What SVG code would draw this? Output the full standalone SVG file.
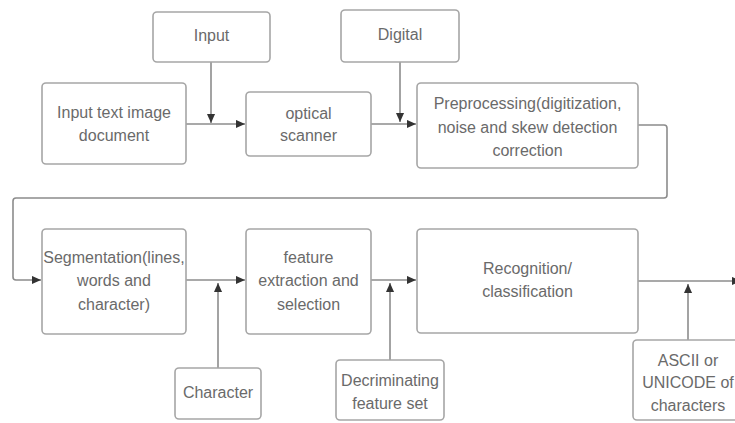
<svg xmlns="http://www.w3.org/2000/svg" width="735" height="423" viewBox="0 0 735 423">
  <style>
    .box { fill: #ffffff; stroke: #a6a6a6; stroke-width: 1.6; }
    .lbl { font-family: "Liberation Sans", Arial, sans-serif; font-size: 16px; fill: #6a6a6a; text-anchor: middle; }
    .wire { fill: none; stroke: #8c8c8c; stroke-width: 1.6; stroke-linejoin: round; }
  </style>
  <defs>
    <marker id="arrow" viewBox="0 0 10 10" refX="10" refY="5" markerWidth="9" markerHeight="9" markerUnits="userSpaceOnUse" orient="auto">
      <path d="M0,0.5 L10,5 L0,9.5 Z" fill="#333333"/>
    </marker>
  </defs>
  <rect width="735" height="423" fill="#ffffff"/>

  <!-- connectors -->
  <g id="connectors">
    <path class="wire" d="M186,124 H245" marker-end="url(#arrow)"/>
    <path class="wire" d="M211,62 V123" marker-end="url(#arrow)"/>
    <path class="wire" d="M371,124 H416" marker-end="url(#arrow)"/>
    <path class="wire" d="M400,62 V122" marker-end="url(#arrow)"/>
    <path class="wire" d="M638,125 H664 Q667,125 667,128 V195 Q667,198 664,198 H16 Q13,198 13,201 V277 Q13,280 16,280 H41" marker-end="url(#arrow)"/>
    <path class="wire" d="M186,280 H245" marker-end="url(#arrow)"/>
    <path class="wire" d="M218,368 V283" marker-end="url(#arrow)"/>
    <path class="wire" d="M371,280 H416" marker-end="url(#arrow)"/>
    <path class="wire" d="M390,360 V283" marker-end="url(#arrow)"/>
    <path class="wire" d="M638,281 H741" marker-end="url(#arrow)"/>
    <path class="wire" d="M688,340 V284" marker-end="url(#arrow)"/>
  </g>

  <g id="input">
    <rect class="box" x="153" y="12" width="117" height="50" rx="4"/>
    <text class="lbl" x="211.5" y="41">Input</text>
  </g>
  <g id="digital">
    <rect class="box" x="341" y="10" width="118" height="52" rx="4"/>
    <text class="lbl" x="400" y="40">Digital</text>
  </g>
  <g id="input-document">
    <rect class="box" x="42" y="83" width="144" height="81" rx="4"/>
    <text class="lbl" x="114" y="117.5">Input text image</text>
    <text class="lbl" x="114" y="140.5">document</text>
  </g>
  <g id="optical-scanner">
    <rect class="box" x="246" y="92" width="125" height="64" rx="4"/>
    <text class="lbl" x="308.5" y="119">optical</text>
    <text class="lbl" x="308.5" y="141">scanner</text>
  </g>
  <g id="preprocessing">
    <rect class="box" x="417" y="83" width="221" height="85" rx="4"/>
    <text class="lbl" x="527.5" y="109">Preprocessing(digitization,</text>
    <text class="lbl" x="527.5" y="133">noise and skew detection</text>
    <text class="lbl" x="527.5" y="156">correction</text>
  </g>
  <g id="segmentation">
    <rect class="box" x="42" y="229" width="144" height="105" rx="4"/>
    <text class="lbl" x="114" y="263">Segmentation(lines,</text>
    <text class="lbl" x="114" y="286">words and</text>
    <text class="lbl" x="114" y="310">character)</text>
  </g>
  <g id="feature-extraction">
    <rect class="box" x="246" y="229" width="125" height="105" rx="4"/>
    <text class="lbl" x="308.5" y="263">feature</text>
    <text class="lbl" x="308.5" y="286">extraction and</text>
    <text class="lbl" x="308.5" y="310">selection</text>
  </g>
  <g id="recognition">
    <rect class="box" x="417" y="229" width="221" height="104" rx="4"/>
    <text class="lbl" x="527.5" y="274">Recognition/</text>
    <text class="lbl" x="527.5" y="297">classification</text>
  </g>
  <g id="character">
    <rect class="box" x="175" y="368" width="86" height="51" rx="4"/>
    <text class="lbl" x="218" y="398">Character</text>
  </g>
  <g id="discriminating-set">
    <rect class="box" x="336" y="360" width="108" height="60" rx="4"/>
    <text class="lbl" x="390" y="386">Decriminating</text>
    <text class="lbl" x="390" y="409">feature set</text>
  </g>
  <g id="ascii-unicode">
    <rect class="box" x="633" y="340" width="110" height="80" rx="4"/>
    <text class="lbl" x="688" y="366">ASCII or</text>
    <text class="lbl" x="688" y="388">UNICODE of</text>
    <text class="lbl" x="688" y="411">characters</text>
  </g>
</svg>
